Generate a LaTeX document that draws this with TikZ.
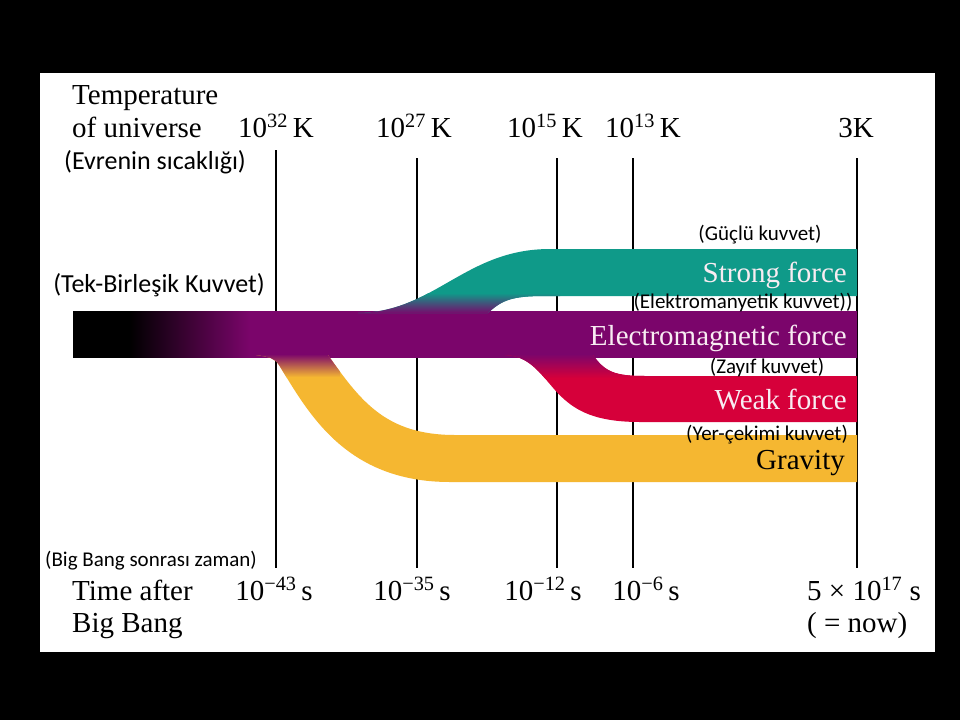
\documentclass[tikz,border=0pt]{standalone}
\usepackage{fontspec}
\setmainfont{Liberation Serif}
\newfontfamily\calib{Carlito}
\definecolor{purp}{RGB}{123,5,107}
\definecolor{teal}{RGB}{15,154,137}
\definecolor{weakred}{RGB}{214,0,58}
\definecolor{gold}{RGB}{245,183,49}
\definecolor{bandtext}{RGB}{248,236,242}
% band from x=73 to x=857 maps to 25bp..75bp; black until x=130, purple from x=250
\pgfdeclarehorizontalshading{unified}{100bp}{color(0bp)=(black); color(28.6bp)=(black); color(36.3bp)=(purp); color(100bp)=(purp)}
\begin{document}
\begin{tikzpicture}[x=1pt,y=-1pt,
  serif/.style={font=\fontsize{29}{33}\selectfont, inner sep=0pt},
  tk/.style={font=\calib\fontsize{21}{24}\selectfont, inner sep=0pt},
  tkbig/.style={font=\calib\fontsize{26}{30}\selectfont, inner sep=0pt},
  bandlbl/.style={font=\fontsize{29}{32}\selectfont, text=bandtext, inner sep=0pt},
  epoch/.style={line width=1.4pt, black}]
\useasboundingbox (0,0) rectangle (960,720);
\fill[black] (0,0) rectangle (960,720);
\fill[white] (40,73) rectangle (935,652);

% epoch lines
\foreach \n/\x/\t in {a/276/150,b/417/158,c/557/158,d/633/158,e/857/158}{
  \coordinate (\n top) at (\x,\t);
  \coordinate (\n bot) at (\x,568);
  \draw[epoch] (\n top) -- (\n bot);
}

% main unified / electromagnetic band
\shade[shading=unified] (73,311) rectangle (857,357);

% strong force branch
\def\strongpath{(358,313) .. controls (435,312) and (465,249) .. (550,249) -- (857,249) -- (857,296) -- (545,296) .. controls (512,296) and (502,300) .. (488,313) -- cycle}
\fill[teal] \strongpath;
\begin{scope}
  \clip \strongpath;
  \shade[top color=teal, bottom color=purp] (350,293) rectangle (560,314);
\end{scope}

% weak force branch
\def\weakpath{(505,355) .. controls (535,356) and (545,383) .. (565,400) .. controls (580,413) and (600,422) .. (640,422) -- (857,422) -- (857,376) -- (645,376) .. controls (615,376) and (605,372) .. (593,355) -- cycle}
\fill[weakred] \weakpath;
\begin{scope}
  \clip \weakpath;
  \shade[top color=purp, bottom color=weakred] (500,354) rectangle (660,378);
\end{scope}

% gravity branch
\def\gravpath{(256,355) .. controls (270,357) and (274,358) .. (279,365) .. controls (308,412) and (345,482) .. (450,482) -- (857,482) -- (857,435) -- (455,435) .. controls (385,435) and (360,400) .. (328,355) -- cycle}
\fill[gold] \gravpath;
\begin{scope}
  \clip \gravpath;
  \shade[top color=purp, bottom color=gold] (250,354) rectangle (340,377);
\end{scope}

% header
\node[serif, anchor=base west] (temp1) at (72,104) {Temperature};
\node[serif, anchor=base west] (temp2) at (72,137) {of universe};
\node[serif, anchor=base] (k32) at (276,137) {10\textsuperscript{32}\,K};
\node[serif, anchor=base] (k27) at (414,137) {10\textsuperscript{27}\,K};
\node[serif, anchor=base] (k15) at (545,137) {10\textsuperscript{15}\,K};
\node[serif, anchor=base] (k13) at (643,137) {10\textsuperscript{13}\,K};
\node[serif, anchor=base] (k3) at (856,137) {3K};
\node[tkbig] (evren) at (155,162) {(Evrenin sıcaklığı)};

% left label
\node[tkbig] (tek) at (159,285) {(Tek-Birleşik Kuvvet)};

% band labels
\node[tk] (guclu) at (760,235) {(Güçlü kuvvet)};
\node[bandlbl, anchor=base east] (strong) at (847,282) {Strong force};
\node[tk] (elek) at (743,303) {(Elektromanyetik kuvvet))};
\node[bandlbl, anchor=base east] (em) at (847,345) {Electromagnetic force};
\node[tk] (zayif) at (767,368) {(Zayıf kuvvet)};
\node[bandlbl, anchor=base east] (weak) at (847,409) {Weak force};
\node[tk] (yer) at (767,435) {(Yer-çekimi kuvvet)};
\node[serif, anchor=base east] (grav) at (845,469) {Gravity};

% footer
\node[tk] (bbz) at (151,561) {(Big Bang sonrası zaman)};
\node[serif, anchor=base west] (time1) at (72,600) {Time after};
\node[serif, anchor=base west] (time2) at (72,632) {Big Bang};
\node[serif, anchor=base] (s43) at (274,600) {10\textsuperscript{−43}\,s};
\node[serif, anchor=base] (s35) at (412,600) {10\textsuperscript{−35}\,s};
\node[serif, anchor=base] (s12) at (543,600) {10\textsuperscript{−12}\,s};
\node[serif, anchor=base] (s6) at (646,600) {10\textsuperscript{−6}\,s};
\node[serif, anchor=base west] (s17) at (807,600) {5 × 10\textsuperscript{17} s};
\node[serif, anchor=base west] (now) at (807,632) {( = now)};
\end{tikzpicture}
\end{document}
